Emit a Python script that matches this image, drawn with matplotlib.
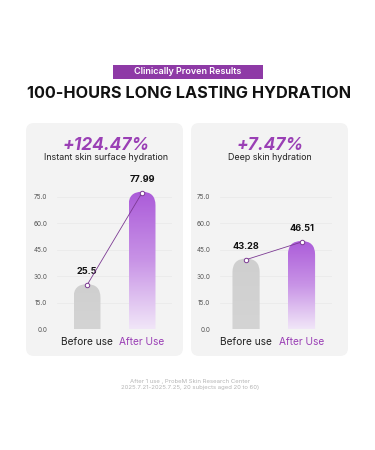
import numpy as np
import matplotlib
matplotlib.use("Agg")
import matplotlib.pyplot as plt
from matplotlib.patches import FancyBboxPatch
from matplotlib.colors import LinearSegmentedColormap

plt.rcParams["font.family"] = ["Inter", "DejaVu Sans"]

# dados
categorias = ["Before use", "After Use"]
alturas_esq = [25.5, 77.99]
rotulos_esq = ["25.5", "77.99"]
alturas_dir = [40.0, 50.0]          # altura desenhada no gráfico original
rotulos_dir = ["43.28", "46.51"]
ticks_y = [0.0, 15.0, 30.0, 45.0, 60.0, 75.0]
ganhos = ["+124.47%", "+7.47%"]
subtitulos = ["Instant skin surface hydration", "Deep skin hydration"]

roxo = "#9a3fb5"
roxo_escuro = "#7c3a93"
fundo_card = "#f3f3f3"

W, H = 375, 450
fig = plt.figure(figsize=(W / 100, H / 100), dpi=100)
fig.patch.set_facecolor("white")

# eixo de fundo em pixels
bg = fig.add_axes([0, 0, 1, 1], zorder=0)
bg.set_xlim(0, W)
bg.set_ylim(H, 0)
bg.axis("off")

badge = FancyBboxPatch((113, 65), 150, 14, boxstyle="square,pad=0",
                       facecolor="#8e3aa6", edgecolor="none")
bg.add_patch(badge)
bg.text(188, 72, "Clinically Proven Results", color="white", fontsize=6.5,
        ha="center", va="center", fontweight="semibold")
bg.text(189, 94, "100-HOURS LONG LASTING HYDRATION", color="#111111",
        fontsize=11.7, ha="center", va="center", fontweight="bold")

cards = [(26, 123, 157, 233), (191, 123, 157, 233)]
for (x0, y0, w, h) in cards:
    bg.add_patch(FancyBboxPatch((x0 + 8, y0 + 8), w - 16, h - 16,
                                boxstyle="round,pad=8", facecolor=fundo_card,
                                edgecolor="none"))

centros_card = [106, 270]
for cx, g, s in zip(centros_card, ganhos, subtitulos):
    bg.text(cx, 145, g, color=roxo, fontsize=12.5, ha="center", va="center",
            fontweight="bold", fontstyle="italic")
    bg.text(cx, 158, s, color="#222222", fontsize=6.4, ha="center", va="center")

bg.text(190, 382, "After 1 use , ProbeM Skin Research Center", color="#b5b5b5",
        fontsize=4.3, ha="center", va="center")
bg.text(190, 388, "2025.7.21-2025.7.25, 20 subjects aged 20 to 60)", color="#b5b5b5",
        fontsize=4.3, ha="center", va="center")

cmap_roxo = LinearSegmentedColormap.from_list("r", ["#f1e6f8", "#c893e6", "#ab5bd9"])
cmap_cinza = LinearSegmentedColormap.from_list("c", ["#d4d4d4", "#cfcfcf"])

ymax = 90
largura = 0.49
paineis = [
    (57, 115, -0.545, 1.545, alturas_esq, rotulos_esq),
    (220, 112, -0.47, 1.55, alturas_dir, rotulos_dir),
]

for left_px, w_px, xl, xr, alturas, rotulos in paineis:
    h_px = ymax * 1.76
    ax = fig.add_axes([left_px / W, (H - 329) / H, w_px / W, h_px / H], zorder=1)
    ax.set_xlim(xl, xr)
    ax.set_ylim(0, ymax)
    ax.patch.set_alpha(0)
    for sp in ax.spines.values():
        sp.set_visible(False)
    ax.set_xticks([])
    ax.set_yticks(ticks_y)
    ax.set_yticklabels([f"{t:.1f}" for t in ticks_y])
    ax.tick_params(axis="y", length=0, labelsize=4.6, labelcolor="#555555", pad=7)
    for t in ticks_y[1:]:
        ax.axhline(t, color="#e8e8e8", lw=0.5, zorder=0)
    ax.axhline(0, color="#b0b0b0", lw=0.7, zorder=3)

    px_x = w_px / (xr - xl)
    px_y = h_px / ymax
    aspecto = px_x / px_y

    for i, (alt, cm) in enumerate(zip(alturas, [cmap_cinza, cmap_roxo])):
        caixa = FancyBboxPatch((i - largura / 2, -20), largura, alt + 20,
                               boxstyle=f"round,pad=0,rounding_size={largura / 2}",
                               mutation_aspect=aspecto, facecolor="none",
                               edgecolor="none", transform=ax.transData)
        ax.add_patch(caixa)
        grad = np.linspace(0, 1, 256).reshape(-1, 1)
        img = ax.imshow(grad, cmap=cm, origin="lower", aspect="auto",
                        extent=[i - largura / 2, i + largura / 2, 0, alt], zorder=1)
        img.set_clip_path(caixa)

    pontos = [a - 0.6 for a in alturas]
    ax.plot([0, 1], pontos, color=roxo_escuro, lw=0.6, marker="o", ms=3.2,
            mfc="white", mec=roxo_escuro, mew=0.7, zorder=4)
    for i, (p, r) in enumerate(zip(pontos, rotulos)):
        ax.annotate(r, (i, p), xytext=(0, 9), textcoords="offset pixels",
                    ha="center", va="bottom", fontsize=6.6, fontweight="bold",
                    color="#111111", annotation_clip=False)

    ax.set_xlim(xl, xr)
    for i, c in enumerate(categorias):
        ax.annotate(c, (i, 0), xytext=(0, -13), textcoords="offset pixels",
                    ha="center", va="center", fontsize=7.3,
                    color="#222222" if i == 0 else roxo, annotation_clip=False)

fig.savefig("out.png", dpi=100, facecolor="white")
